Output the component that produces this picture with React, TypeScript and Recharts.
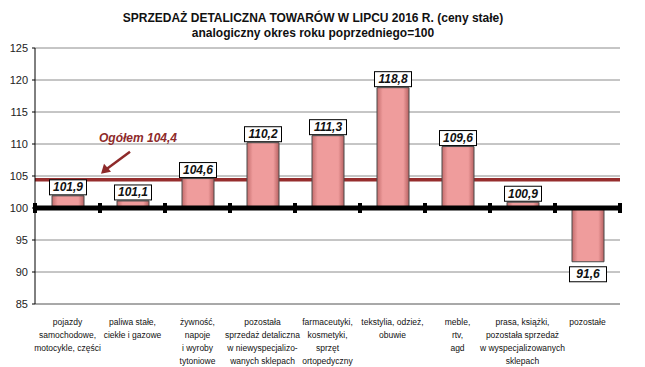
import { BarChart, Bar, XAxis, YAxis, CartesianGrid, ReferenceLine, LabelList } from "recharts";

document.body.style.margin = "0";

const categories = [
    ["pojazdy", "samochodowe,", "motocykle, części"],
    ["paliwa stałe,", "ciekłe i gazowe"],
    ["żywność,", "napoje", "i wyroby", "tytoniowe"],
    ["pozostała", "sprzedaż detaliczna", "w niewyspecjalizo-", "wanych sklepach"],
    ["farmaceutyki,", "kosmetyki,", "sprzęt", "ortopedyczny"],
    ["tekstylia, odzież,", "obuwie"],
    ["meble,", "rtv,", "agd"],
    ["prasa, książki,", "pozostała sprzedaż", "w wyspecjalizowanych", "sklepach"],
    ["pozostałe"],
];
const values = [101.9, 101.1, 104.6, 110.2, 111.3, 118.8, 109.6, 100.9, 91.6];
const baseline = 100;
const total = 104.4;
const yTicks = [85, 90, 95, 100, 105, 110, 115, 120, 125];

const FONT = "'Liberation Sans', Arial, sans-serif";
const fmt = (v: number) => v.toFixed(1).replace(".", ",");

const data = values.map((v, i) => ({
    name: String(i),
    range: [Math.min(baseline, v), Math.max(baseline, v)],
}));

const CategoryTick = ({ x, y, payload }: any) => {
    const lines = categories[Number(payload.value)];
    return (
        <text x={x} y={y + 13} textAnchor="middle" fontSize={8.5} fill="#111" fontFamily={FONT}>
            {lines.map((l, i) => (
                <tspan key={i} x={x} dy={i === 0 ? 0 : 13}>{l}</tspan>
            ))}
        </text>
    );
};

const ValueBox = (props: any) => {
    const { x, y, width, height, index } = props;
    const v = values[index];
    const cx = x + width / 2;
    const w = 37;
    const h = 15;
    const top = v >= baseline ? y - h - 1 : y + height + 5;
    return (
        <g>
            <rect x={cx - w / 2} y={top} width={w} height={h} fill="#fff" stroke="#000" strokeWidth={1} />
            <text x={cx} y={top + 11.5} textAnchor="middle" fontSize={12} fontWeight="bold" fontStyle="italic" fill="#111" fontFamily={FONT}>
                {fmt(v)}
            </text>
        </g>
    );
};

// thick 100 line with marks at category boundaries
const BaseLineShape = (props: any) => {
    const { x1, y1, x2 } = props;
    const n = categories.length;
    const step = (x2 - x1) / n;
    return (
        <g>
            <line x1={x1} y1={y1} x2={x2} y2={y1} stroke="#000" strokeWidth={5} />
            {Array.from({ length: n + 1 }, (_, i) => (
                <rect key={i} x={x1 + i * step - 2} y={y1 - 5} width={4} height={10} fill="#000" />
            ))}
        </g>
    );
};

const TotalLabel = (props: any) => {
    const { viewBox } = props;
    const x0 = viewBox.x;
    const y0 = viewBox.y;
    return (
        <g>
            <text x={x0 + 103} y={y0 - 38} textAnchor="middle" fontSize={12} fontWeight="bold" fontStyle="italic" fill="#8e2a2a" fontFamily={FONT}>
                {"Ogółem " + fmt(total)}
            </text>
            <line x1={x0 + 95} y1={y0 - 28} x2={x0 + 72} y2={y0 - 11} stroke="#8e2a2a" strokeWidth={2.5} />
            <polygon points={`${x0 + 66},${y0 - 6} ${x0 + 69},${y0 - 16} ${x0 + 76},${y0 - 8}`} fill="#8e2a2a" />
        </g>
    );
};

export default function App() {
    return (
        <div style={{ position: "relative", width: 645, height: 367, background: "#fff", fontFamily: FONT }}>
            <div style={{ position: "absolute", left: 0, width: 626, top: 11, textAlign: "center", fontSize: 12, fontWeight: "bold", color: "#111", lineHeight: "15px" }}>
                SPRZEDAŻ DETALICZNA TOWARÓW W LIPCU 2016 R. (ceny stałe)
                <br />
                analogiczny okres roku poprzedniego=100
            </div>
            <BarChart
                width={645}
                height={367}
                data={data}
                margin={{ top: 48, right: 25, left: 0, bottom: 3 }}
                barSize={32}
            >
                <defs>
                    <linearGradient id="barFill" x1="0" y1="0" x2="1" y2="0">
                        <stop offset="0%" stopColor="#c46c6c" />
                        <stop offset="18%" stopColor="#ef9c9c" />
                        <stop offset="82%" stopColor="#ef9c9c" />
                        <stop offset="100%" stopColor="#b86262" />
                    </linearGradient>
                </defs>
                <CartesianGrid vertical={false} stroke="#8c8c8c" strokeWidth={1} />
                <XAxis
                    dataKey="name"
                    height={60}
                    tick={<CategoryTick />}
                    tickLine={false}
                    axisLine={{ stroke: "#8c8c8c" }}
                    interval={0}
                />
                <YAxis
                    width={35}
                    domain={[85, 125]}
                    ticks={yTicks}
                    allowDataOverflow
                    tick={{ fontSize: 11, fill: "#222", fontFamily: FONT }}
                    tickSize={3}
                    tickMargin={4}
                    tickLine={{ stroke: "#000" }}
                    axisLine={{ stroke: "#000" }}
                />
                <ReferenceLine y={total} stroke="#962d2d" strokeWidth={3.5} label={<TotalLabel />} zIndex={100} />
                <Bar dataKey="range" fill="url(#barFill)" stroke="#4a4a4a" strokeWidth={1} isAnimationActive={false}>
                    <LabelList dataKey="range" content={<ValueBox />} />
                </Bar>
                <ReferenceLine y={baseline} shape={<BaseLineShape />} />
            </BarChart>
        </div>
    );
}
